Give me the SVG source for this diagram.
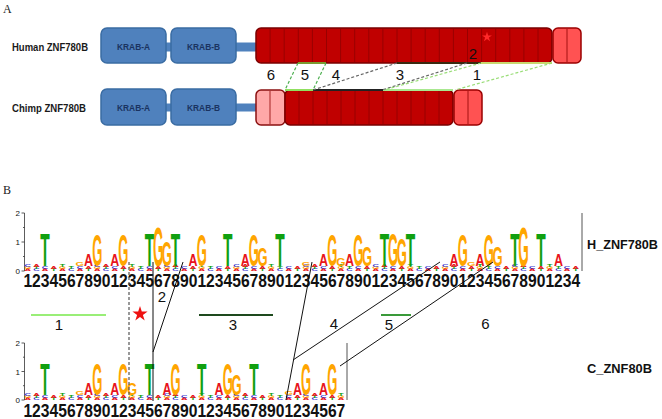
<svg xmlns="http://www.w3.org/2000/svg" xmlns:xlink="http://www.w3.org/1999/xlink" width="662" height="419" viewBox="0 0 662 419">
<style>
.lg{font-family:"Liberation Sans",Arial,sans-serif;font-weight:bold;font-size:10px;text-anchor:middle}
.cT{fill:#10a010}.cG{fill:#ffa500}.cA{fill:#e8141c}.cC{fill:#2b2bd0}
.nz{font-family:"Liberation Sans",Arial,sans-serif;font-weight:bold;font-size:9px;text-anchor:middle}
.num{font-family:"Liberation Sans",Arial,sans-serif;font-weight:bold;font-size:18.5px;fill:#111}
.lbl{font-family:"Liberation Sans",Arial,sans-serif;font-size:15px;text-anchor:middle;fill:#111}
.ax{font-family:"Liberation Sans",Arial,sans-serif;font-size:8px;text-anchor:end;fill:#111}
.axl{stroke:#333;stroke-width:0.8;fill:none}
.krab{fill:#4f81bd;stroke:#3a6ca3;stroke-width:1.5}
.bar{fill:#4f81bd}
.kt{font-family:"Liberation Sans",Arial,sans-serif;font-weight:bold;font-size:9.5px;fill:#1a3360;text-anchor:middle}
.red{fill:#c00000;stroke:#7a0000;stroke-width:1.5}
.lite{fill:#ff5252;stroke:#9a0000;stroke-width:1.5}
.pink{fill:#ffa8a8;stroke:#8b1010;stroke-width:1.5}
.div{stroke:#8e0000;stroke-width:0.8}
.sp{font-family:"Liberation Sans",Arial,sans-serif;font-weight:bold;font-size:11px;fill:#1a1a1a}
.pl{font-family:"Liberation Serif",serif;font-size:12px;fill:#222}
.tl{font-family:"Liberation Sans",Arial,sans-serif;font-weight:bold;font-size:13px;fill:#111}
.dash{fill:none;stroke-width:1.2;stroke-dasharray:3,2}
.ln{fill:none;stroke:#111;stroke-width:1}
</style>
<defs>
<text id="LT" class="lg cT">T</text>
<text id="LG" class="lg cG">G</text>
<text id="LA" class="lg cA">A</text>
<path id="star" d="M0,-8 L1.8,-2.48 7.61,-2.47 2.91,0.95 4.7,6.47 0,3.06 -4.7,6.47 -2.91,0.95 -7.61,-2.47 -1.8,-2.48Z"/>
</defs>
<rect width="662" height="419" fill="#ffffff"/>

<text class="pl" x="3" y="13">A</text>
<text class="pl" x="3" y="194">B</text>

<g id="human-track">
<text class="sp" x="12" y="51" textLength="76" lengthAdjust="spacingAndGlyphs">Human ZNF780B</text>
<rect class="bar" x="165" y="42.5" width="7" height="9"/>
<rect class="bar" x="235" y="42.5" width="22" height="9"/>
<rect class="krab" x="101" y="28" width="65" height="35" rx="6"/>
<text class="kt" x="133.5" y="50" textLength="33" lengthAdjust="spacingAndGlyphs">KRAB-A</text>
<rect class="krab" x="171" y="28" width="65" height="35" rx="6"/>
<text class="kt" x="203.5" y="50" textLength="33" lengthAdjust="spacingAndGlyphs">KRAB-B</text>
<rect class="red" x="256" y="28" width="296" height="35" rx="5"/>
<path class="div" d="M270.1,29V62M284.2,29V62M298.3,29V62M312.4,29V62M326.5,29V62M340.6,29V62M354.7,29V62M368.8,29V62M382.9,29V62M397,29V62M411.1,29V62M425.2,29V62M439.3,29V62M453.4,29V62M467.5,29V62M481.6,29V62M495.7,29V62M509.8,29V62M523.9,29V62M538,29V62"/>
<rect class="lite" x="553" y="28" width="28" height="35" rx="5"/>
<path class="div" d="M567,29V62"/>
<use href="#star" transform="translate(487,37) scale(0.65)" fill="#ff2a2a"/>
<path d="M298,63H326" stroke="#7a9a30" stroke-width="2"/>
<path d="M397,63H481" stroke="#3a2a10" stroke-width="2"/>
<path d="M481,63H552" stroke="#c8d870" stroke-width="2"/>
</g>

<g id="chimp-track">
<text class="sp" x="12" y="112" textLength="74" lengthAdjust="spacingAndGlyphs">Chimp ZNF780B</text>
<rect class="bar" x="165" y="103.5" width="7" height="8"/>
<rect class="bar" x="235" y="103.5" width="22" height="8"/>
<rect class="krab" x="101" y="89" width="65" height="36" rx="6"/>
<text class="kt" x="133.5" y="111" textLength="33" lengthAdjust="spacingAndGlyphs">KRAB-A</text>
<rect class="krab" x="171" y="89" width="65" height="36" rx="6"/>
<text class="kt" x="203.5" y="111" textLength="33" lengthAdjust="spacingAndGlyphs">KRAB-B</text>
<rect class="pink" x="256" y="90" width="29" height="35" rx="5"/>
<path class="div" d="M270,91V124"/>
<rect class="red" x="285" y="90" width="168" height="35" rx="5"/>
<path class="div" d="M299,91V124M313,91V124M327,91V124M341,91V124M355,91V124M369,91V124M383,91V124M397,91V124M411,91V124M425,91V124M439,91V124"/>
<rect class="lite" x="454" y="90" width="28" height="35" rx="5"/>
<path class="div" d="M468,91V124"/>
<path d="M285,90H313" stroke="#90e060" stroke-width="2"/>
<path d="M313,90H383" stroke="#222" stroke-width="2"/>
<path d="M383,90H453" stroke="#a8e890" stroke-width="2"/>
</g>

<g id="track-connectors">
<path class="dash" stroke="#4caf50" d="M298,63L285,90M326,63L313,90"/>
<path class="dash" stroke="#666" d="M397,63L313,90M467,63L382,90"/>
<path class="dash" stroke="#99dd77" d="M481,63L384,90M552,63L455,90"/>
<text class="lbl" x="271" y="80">6</text>
<text class="lbl" x="305" y="80">5</text>
<text class="lbl" x="336" y="80">4</text>
<text class="lbl" x="400" y="80">3</text>
<text class="lbl" x="473" y="59">2</text>
<text class="lbl" x="477" y="80">1</text>
</g>

<g id="human-logo">
<path class="axl" d="M24.5,213V271M21.5,213H24.5M21.5,242H24.5M21.5,271H24.5M23,227.5H24.5M23,256.5H24.5"/>
<text class="ax" x="20" y="216">2</text>
<text class="ax" x="20" y="245">1</text>
<text class="ax" x="20" y="274">0</text>
<path d="M582,213V271" stroke="#555" stroke-width="1"/>
<g transform="scale(1,0.3)">
<text class="nz cA" y="903.3" x="27.7 62.5 97.3 132.1 166.9 201.7 236.5 271.3 306.1 340.9 375.7 410.5 445.3 480.1 514.9 549.7 45.1 79.9 114.7 149.5 184.3 219.1 253.9 288.7 323.5 358.3 393.1 427.9 462.7 497.5 532.3 567.1">AAAAAAAAAAAAAAAAAAAAAAAAAAAAAAAA</text>
<text class="nz cC" y="903.3" x="36.4 71.2 106.0 140.8 175.6 210.4 245.2 280.0 314.8 349.6 384.4 419.2 454.0 488.8 523.6 558.4">CCCCCCCCCCCCCCCC</text>
<text class="nz cT" y="903.3" x="53.8 88.6 123.4 158.2 193.0 227.8 262.6 297.4 332.2 367.0 401.8 436.6 471.4 506.2 541.0 575.8">TTTTTTTTTTTTTTTT</text>
<text class="nz cG" y="896" x="27.7 62.5 97.3 132.1 166.9 201.7 236.5 271.3 306.1 340.9 375.7 410.5 445.3 480.1 514.9 549.7">GGGGGGGGGGGGGGGG</text>
<text class="nz cT" y="896" x="36.4 71.2 106.0 140.8 175.6 210.4 245.2 280.0 314.8 349.6 384.4 419.2 454.0 488.8 523.6 558.4">TTTTTTTTTTTTTTTT</text>
<text class="nz cC" y="896" x="45.1 79.9 114.7 149.5 184.3 219.1 253.9 288.7 323.5 358.3 393.1 427.9 462.7 497.5 532.3 567.1">CCCCCCCCCCCCCCCC</text>
<text class="nz cA" y="896" x="53.8 88.6 123.4 158.2 193.0 227.8 262.6 297.4 332.2 367.0 401.8 436.6 471.4 506.2 541.0 575.8">AAAAAAAAAAAAAAAA</text>
<text class="nz cC" y="889.5" x="27.7 97.3 166.9 236.5 306.1 375.7 445.3 514.9">CCCCCCCC</text>
<text class="nz cA" y="889.5" x="36.4 106.0 175.6 245.2 314.8 384.4 454.0 523.6">AAAAAAAA</text>
<text class="nz cT" y="889.5" x="62.5 132.1 201.7 271.3 340.9 410.5 480.1 549.7">TTTTTTTT</text>
</g>
<use href="#LG" transform="translate(79.9,265.5) scale(1.1,0.6)"/>
<use href="#LG" transform="translate(306.1,265.5) scale(1.1,0.6)"/>
<use href="#LG" transform="translate(471.4,265.5) scale(1.1,0.6)"/>
<use href="#LT" transform="translate(45.1,265.5) scale(1.55,4.65)"/>
<use href="#LA" transform="translate(88.6,265.5) scale(1.25,1.74)"/>
<use href="#LG" transform="translate(97.3,265.5) scale(1.3,4.51)"/>
<use href="#LA" transform="translate(114.7,265.5) scale(1.25,1.74)"/>
<use href="#LG" transform="translate(123.4,265.5) scale(1.3,4.51)"/>
<use href="#LT" transform="translate(149.5,265.5) scale(1.55,4.65)"/>
<use href="#LG" transform="translate(158.2,265.5) scale(1.35,5.63)"/>
<use href="#LG" transform="translate(166.9,265.5) scale(1.3,3.54)"/>
<use href="#LT" transform="translate(175.6,265.5) scale(1.55,4.65)"/>
<use href="#LA" transform="translate(193.0,265.5) scale(1.25,1.74)"/>
<use href="#LG" transform="translate(201.7,265.5) scale(1.3,4.51)"/>
<use href="#LT" transform="translate(227.8,265.5) scale(1.55,4.65)"/>
<use href="#LA" transform="translate(245.2,265.5) scale(1.25,1.74)"/>
<use href="#LG" transform="translate(253.9,265.5) scale(1.3,4.51)"/>
<use href="#LG" transform="translate(262.6,265.5) scale(1.3,2.57)"/>
<use href="#LT" transform="translate(280.0,265.5) scale(1.55,4.65)"/>
<use href="#LA" transform="translate(323.5,265.5) scale(1.25,1.74)"/>
<use href="#LG" transform="translate(332.2,265.5) scale(1.3,4.51)"/>
<use href="#LG" transform="translate(340.9,265.5) scale(1.2,1.04)"/>
<use href="#LA" transform="translate(349.6,265.5) scale(1.25,1.74)"/>
<use href="#LG" transform="translate(358.3,265.5) scale(1.3,4.51)"/>
<use href="#LG" transform="translate(367.0,265.5) scale(1.3,2.85)"/>
<use href="#LT" transform="translate(384.4,265.5) scale(1.55,4.65)"/>
<use href="#LG" transform="translate(393.1,265.5) scale(1.3,4.7)"/>
<use href="#LG" transform="translate(401.8,265.5) scale(1.3,3.82)"/>
<use href="#LT" transform="translate(410.5,265.5) scale(1.55,4.65)"/>
<use href="#LA" transform="translate(454.0,265.5) scale(1.25,1.74)"/>
<use href="#LG" transform="translate(462.7,265.5) scale(1.3,4.51)"/>
<use href="#LA" transform="translate(480.1,265.5) scale(1.25,1.74)"/>
<use href="#LG" transform="translate(488.8,265.5) scale(1.3,4.51)"/>
<use href="#LG" transform="translate(497.5,265.5) scale(1.3,2.85)"/>
<use href="#LT" transform="translate(514.9,265.5) scale(1.55,4.65)"/>
<use href="#LG" transform="translate(523.6,265.5) scale(1.35,5.63)"/>
<use href="#LT" transform="translate(541.0,265.5) scale(1.55,4.65)"/>
<use href="#LA" transform="translate(558.4,265.5) scale(1.25,1.74)"/>
<text class="num" x="23.4" y="287" textLength="556.8" lengthAdjust="spacingAndGlyphs">1234567890123456789012345678901234567890123456789012345678901234</text>
<text class="tl" x="587" y="249" textLength="71" lengthAdjust="spacingAndGlyphs">H_ZNF780B</text>
</g>

<g id="chimp-logo">
<path class="axl" d="M24.5,343V400M21.5,343H24.5M21.5,371.5H24.5M21.5,400H24.5M23,357.2H24.5M23,385.7H24.5"/>
<text class="ax" x="20" y="346">2</text>
<text class="ax" x="20" y="375">1</text>
<text class="ax" x="20" y="403">0</text>
<path d="M347,343V400" stroke="#555" stroke-width="1"/>
<g transform="scale(1,0.3)">
<text class="nz cA" y="1333.3" x="27.7 62.5 97.3 132.1 166.9 201.7 236.5 271.3 306.1 340.9 45.1 79.9 114.7 149.5 184.3 219.1 253.9 288.7 323.5">AAAAAAAAAAAAAAAAAAA</text>
<text class="nz cC" y="1333.3" x="36.4 71.2 106.0 140.8 175.6 210.4 245.2 280.0 314.8">CCCCCCCCC</text>
<text class="nz cT" y="1333.3" x="53.8 88.6 123.4 158.2 193.0 227.8 262.6 297.4 332.2">TTTTTTTTT</text>
<text class="nz cG" y="1326" x="27.7 62.5 97.3 132.1 166.9 201.7 236.5 271.3 306.1 340.9">GGGGGGGGGG</text>
<text class="nz cT" y="1326" x="36.4 71.2 106.0 140.8 175.6 210.4 245.2 280.0 314.8">TTTTTTTTT</text>
<text class="nz cC" y="1326" x="45.1 79.9 114.7 149.5 184.3 219.1 253.9 288.7 323.5">CCCCCCCCC</text>
<text class="nz cA" y="1326" x="53.8 88.6 123.4 158.2 193.0 227.8 262.6 297.4 332.2">AAAAAAAAA</text>
<text class="nz cC" y="1319.5" x="27.7 97.3 166.9 236.5 306.1">CCCCC</text>
<text class="nz cA" y="1319.5" x="36.4 106.0 175.6 245.2 314.8">AAAAA</text>
<text class="nz cT" y="1319.5" x="62.5 132.1 201.7 271.3 340.9">TTTTT</text>
</g>
<use href="#LG" transform="translate(79.9,394.5) scale(1.1,0.6)"/>
<use href="#LG" transform="translate(288.7,394.5) scale(1.1,0.6)"/>
<use href="#LT" transform="translate(45.1,394.5) scale(1.55,4.51)"/>
<use href="#LA" transform="translate(88.6,394.5) scale(1.25,1.74)"/>
<use href="#LG" transform="translate(97.3,394.5) scale(1.3,4.375)"/>
<use href="#LA" transform="translate(114.7,394.5) scale(1.25,1.74)"/>
<use href="#LG" transform="translate(123.4,394.5) scale(1.3,4.375)"/>
<use href="#LG" transform="translate(132.1,394.5) scale(1.3,1.6)"/>
<use href="#LT" transform="translate(149.5,394.5) scale(1.55,4.51)"/>
<use href="#LA" transform="translate(166.9,394.5) scale(1.25,1.74)"/>
<use href="#LG" transform="translate(175.6,394.5) scale(1.3,4.375)"/>
<use href="#LT" transform="translate(201.7,394.5) scale(1.55,4.51)"/>
<use href="#LA" transform="translate(219.1,394.5) scale(1.25,1.74)"/>
<use href="#LG" transform="translate(227.8,394.5) scale(1.3,4.375)"/>
<use href="#LG" transform="translate(236.5,394.5) scale(1.3,2.99)"/>
<use href="#LT" transform="translate(253.9,394.5) scale(1.55,4.51)"/>
<use href="#LA" transform="translate(297.4,394.5) scale(1.25,1.74)"/>
<use href="#LG" transform="translate(306.1,394.5) scale(1.3,4.375)"/>
<use href="#LA" transform="translate(323.5,394.5) scale(1.25,1.74)"/>
<use href="#LG" transform="translate(332.2,394.5) scale(1.3,4.375)"/>
<text class="num" x="23.4" y="416.5" textLength="321.9" lengthAdjust="spacingAndGlyphs">1234567890123456789012345678901234567</text>
<text class="tl" x="587" y="373" textLength="65" lengthAdjust="spacingAndGlyphs">C_ZNF80B</text>
</g>

<g id="logo-connectors">
<path class="dash" stroke="#555" stroke-width="1" d="M129,262V401"/>
<path class="ln" d="M153,262V401M183,262L153,352M312,262L286,400M440,262L293,360M493,262L340,366"/>
<use href="#star" transform="translate(140,314)" fill="#ee1111"/>
<path d="M31,315H106" stroke="#99ee77" stroke-width="2"/>
<path d="M199,315H273" stroke="#1e4a1e" stroke-width="2"/>
<path d="M381,315H411" stroke="#3a9a3a" stroke-width="2"/>
<text class="lbl" x="162" y="302">2</text>
<text class="lbl" x="59" y="330">1</text>
<text class="lbl" x="233" y="330">3</text>
<text class="lbl" x="334" y="329">4</text>
<text class="lbl" x="389" y="330">5</text>
<text class="lbl" x="485.5" y="329">6</text>
</g>
</svg>
